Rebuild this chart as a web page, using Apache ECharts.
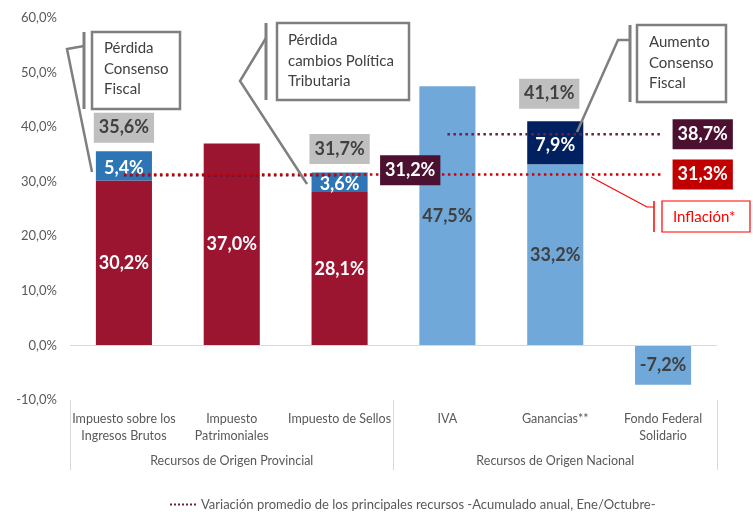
<!DOCTYPE html>
<html><head><meta charset="utf-8">
<script src="https://cdn.jsdelivr.net/npm/echarts@6/dist/echarts.min.js"></script>
<style>html,body{margin:0;padding:0;background:#fff}#c{width:753px;height:521px}</style>
</head><body><div id="c"></div>
<script>
const categories = ['Impuesto sobre los\nIngresos Brutos', 'Impuesto\nPatrimoniales', 'Impuesto de Sellos', 'IVA', 'Ganancias**', 'Fondo Federal\nSolidario'];
const groups = ['Recursos de Origen Provincial', 'Recursos de Origen Nacional'];
const baseValues = [30.2, 37.0, 28.1, 47.5, 33.2, -7.2];
const changeValues = [5.4, null, 3.6, null, 7.9, null];
const totalValues = [35.6, null, 31.7, null, 41.1, null];
const avgProvincial = [31.2, 31.2, 31.2, null, null, null];
const avgNacional = [null, null, null, 38.7, 38.7, 38.7];
const inflation = [31.3, 31.3, 31.3, 31.3, 31.3, 31.3];
const yMin = -10, yMax = 60, yStep = 10;
const legendName = 'Variación promedio de los principales recursos -Acumulado anual, Ene/Octubre-';

const FONT = 'Lato';
const fmt = v => v.toFixed(1).replace('.', ',') + '%';
const nz = a => a.map(v => v === null ? '-' : v);
const isProv = i => i < 3;

const RED = '#9B1430', LBLUE = '#6FA8D9', BLUE = '#2E75B6', NAVY = '#002060';
const MAROON = '#4C1130', INFL = '#C00000';

const baseData = baseValues.map((v, i) => ({
  value: v,
  itemStyle: { color: isProv(i) ? RED : LBLUE },
  label: { color: isProv(i) ? '#FFFFFF' : '#404040' }
}));
const changeData = changeValues.map((v, i) => v === null ? '-' : ({
  value: v,
  itemStyle: { color: isProv(i) ? BLUE : NAVY },
  label: { offset: isProv(i) ? [0, 2] : [0, 2] }
}));
const totalData = [];
totalValues.forEach((v, i) => {
  if (v !== null) totalData.push({ value: [i, v], label: { offset: i === 4 ? [-6, -4] : [0, 0] } });
});
const boxLabel = (bg, dist, off) => ({
  show: true, position: 'right', distance: dist, offset: off,
  backgroundColor: bg, color: '#fff', fontWeight: 'bold', fontSize: 18, fontFamily: FONT,
  padding: [6, 5, 6, 5], formatter: p => fmt(p.value[1])
});
const refLabelData = [
  { value: [2, avgProvincial[2]], label: boxLabel(MAROON, 40, [0, -5]) },
  { value: [5, avgNacional[5]], label: boxLabel(MAROON, 9, [0, 0]) },
  { value: [5, inflation[5]], label: boxLabel(INFL, 9, [0, 0]) }
];

const dots = [2.5, 3.5];
let dotPath = 'path://';
for (let k = 0; k < 7; k++) dotPath += 'M' + (k * 4) + ',0h2v2h-2z';

const GRAY = '#7F7F7F';
const txt = { fontFamily: FONT, fontSize: 15, fill: '#404040', lineHeight: 20.5 };

const chart = echarts.init(document.getElementById('c'));
chart.setOption({
  animation: false,
  textStyle: { fontFamily: FONT },
  grid: { left: 70, right: 36, top: 18, bottom: 121 },
  legend: {
    data: [{ name: legendName, icon: dotPath }], bottom: 5, left: 165, itemWidth: 26, itemHeight: 2.5, itemGap: 6,
    textStyle: { color: '#595959', fontSize: 13, fontFamily: FONT }
  },
  xAxis: [
    {
      type: 'category', data: categories, position: 'bottom',
      axisLine: { show: false, onZero: false }, axisTick: { show: false },
      axisLabel: { color: '#595959', fontSize: 12.5, fontFamily: FONT, margin: 10, lineHeight: 17, interval: 0 }
    },
    {
      type: 'category', data: groups, position: 'bottom', offset: 0,
      axisLine: { show: false, onZero: false },
      axisTick: { show: true, length: 70, lineStyle: { color: '#D9D9D9' } },
      axisLabel: { color: '#595959', fontSize: 12.5, fontFamily: FONT, margin: 54, interval: 0 }
    }
  ],
  yAxis: {
    type: 'value', min: yMin, max: yMax, interval: yStep,
    axisLine: { show: false }, axisTick: { show: false }, splitLine: { show: false },
    axisLabel: { color: '#595959', fontSize: 13, fontFamily: FONT, margin: 13, formatter: fmt }
  },
  series: [
    {
      name: 'base', type: 'bar', stack: 'a', barWidth: '52%', data: baseData,
      label: { show: true, position: 'inside', fontWeight: 'bold', fontSize: 18, fontFamily: FONT, formatter: p => fmt(p.value) },
      markLine: {
        silent: true, symbol: 'none', label: { show: false },
        lineStyle: { color: '#D9D9D9', type: 'solid', width: 1 },
        data: [{ yAxis: 0 }]
      }
    },
    {
      name: 'cambio', type: 'bar', stack: 'a', barWidth: '52%', data: changeData,
      label: { show: true, position: 'inside', color: '#fff', fontWeight: 'bold', fontSize: 18, fontFamily: FONT, formatter: p => fmt(p.value) }
    },
    {
      name: legendName, type: 'line', data: nz(avgProvincial), symbol: 'none', z: 3,
      lineStyle: { color: MAROON, width: 2.5, type: dots }, itemStyle: { color: '#6B2042' }
    },
    {
      name: legendName, type: 'line', data: nz(avgNacional), symbol: 'none', z: 3,
      lineStyle: { color: '#6B2042', width: 2.5, type: dots }, itemStyle: { color: '#6B2042' }
    },
    {
      name: 'Inflación', type: 'line', data: inflation, symbol: 'none', z: 4,
      lineStyle: { color: '#D00000', width: 2.5, type: dots }
    },
    {
      name: 'total', type: 'scatter', data: totalData, symbolSize: 1, z: 5,
      itemStyle: { color: 'rgba(0,0,0,0)', opacity: 1 },
      label: {
        show: true, position: 'top', distance: 8, backgroundColor: '#BFBFBF', color: '#404040',
        fontWeight: 'bold', fontSize: 18, fontFamily: FONT, padding: [6, 5, 6, 5],
        formatter: p => fmt(p.value[1])
      }
    },
    {
      name: 'refs', type: 'scatter', data: refLabelData, symbolSize: 1, z: 6,
      itemStyle: { color: 'rgba(0,0,0,0)', opacity: 1 }
    }
  ],
  graphic: [
    { type: 'polyline', shape: { points: [[84, 46], [67, 49], [92, 172]] }, style: { stroke: GRAY, lineWidth: 2.5, fill: null }, z: 100 },
    { type: 'line', shape: { x1: 84, y1: 32, x2: 84, y2: 109 }, style: { stroke: GRAY, lineWidth: 3 }, z: 100 },
    { type: 'rect', shape: { x: 92, y: 32, width: 88, height: 77 }, style: { fill: '#fff', stroke: GRAY, lineWidth: 2.5 }, z: 100 },
    { type: 'text', x: 104, y: 38, style: Object.assign({ text: 'Pérdida\nConsenso\nFiscal', verticalAlign: 'top' }, txt), z: 101 },
    { type: 'polyline', shape: { points: [[266, 38], [240, 81], [307, 184]] }, style: { stroke: GRAY, lineWidth: 2.5, fill: null }, z: 100 },
    { type: 'line', shape: { x1: 266, y1: 23, x2: 266, y2: 100 }, style: { stroke: GRAY, lineWidth: 3 }, z: 100 },
    { type: 'rect', shape: { x: 277, y: 23, width: 132, height: 77 }, style: { fill: '#fff', stroke: GRAY, lineWidth: 2.5 }, z: 100 },
    { type: 'text', x: 288, y: 30, style: Object.assign({ text: 'Pérdida\ncambios Política\nTributaria', verticalAlign: 'top' }, txt), z: 101 },
    { type: 'polyline', shape: { points: [[630, 40], [618, 40], [577, 132]] }, style: { stroke: GRAY, lineWidth: 2.5, fill: null }, z: 100 },
    { type: 'line', shape: { x1: 630, y1: 25, x2: 630, y2: 102 }, style: { stroke: GRAY, lineWidth: 3 }, z: 100 },
    { type: 'rect', shape: { x: 637, y: 25, width: 89, height: 77 }, style: { fill: '#fff', stroke: GRAY, lineWidth: 2.5 }, z: 100 },
    { type: 'text', x: 649, y: 32, style: Object.assign({ text: 'Aumento\nConsenso\nFiscal', verticalAlign: 'top' }, txt), z: 101 },
    { type: 'polyline', shape: { points: [[654, 207], [647, 207], [591, 177]] }, style: { stroke: '#FF0000', lineWidth: 1.2, fill: null }, z: 100 },
    { type: 'line', shape: { x1: 654, y1: 201, x2: 654, y2: 232 }, style: { stroke: '#FF0000', lineWidth: 1.5 }, z: 100 },
    { type: 'rect', shape: { x: 662, y: 201, width: 88, height: 31 }, style: { fill: '#fff', stroke: '#FF0000', lineWidth: 1.2 }, z: 100 },
    { type: 'text', x: 673, y: 217, style: { text: 'Inflación*', verticalAlign: 'middle', fontFamily: FONT, fontSize: 15, fill: '#FF0000' }, z: 101 }
  ]
});
</script>
</body></html>
